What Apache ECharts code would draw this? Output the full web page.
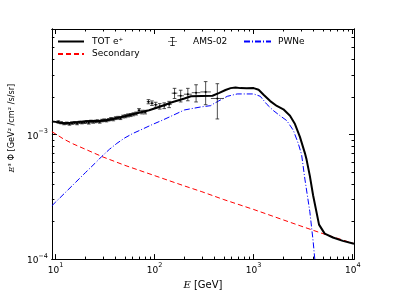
<!DOCTYPE html>
<html>
<head>
<meta charset="utf-8">
<script src="https://cdn.jsdelivr.net/npm/echarts@6/dist/echarts.min.js"></script>
<style>
html,body{margin:0;padding:0;background:#fff;}
#chart{width:394px;height:295px;}
</style>
</head>
<body>
<div id="chart"></div>
<script>
// ---- Data ----
// Total positron spectrum (black solid)
const totE = [9.2,10,11,12.5,14,17,22,28,35,41,50,60,75,88,111,147,200,233,300,384,450,520,585,656,736,850,1000,1122,1259,1469,1713,1995,2328,2612,2930,3289,3420,3690,3980,4570,5210,6310,7940,10300];
const totV = [1.27e-3,1.26e-3,1.24e-3,1.23e-3,1.24e-3,1.26e-3,1.28e-3,1.28e-3,1.31e-3,1.35e-3,1.40e-3,1.45e-3,1.51e-3,1.56e-3,1.66e-3,1.80e-3,1.94e-3,2.02e-3,2.03e-3,2.04e-3,2.15e-3,2.27e-3,2.35e-3,2.38e-3,2.35e-3,2.34e-3,2.35e-3,2.28e-3,2.08e-3,1.85e-3,1.69e-3,1.59e-3,1.41e-3,1.21e-3,9.55e-4,7.08e-4,6.28e-4,4.65e-4,3.25e-4,1.89e-4,1.60e-4,1.49e-4,1.40e-4,1.33e-4];
// Secondary positrons (red dashed)
const secE = [9.2,10,12,15,20,30,50,100,200,300,500,1000,2000,3000,5000,7000,10300];
const secV = [1.05e-3,1.01e-3,9.2e-4,8.4e-4,7.6e-4,6.6e-4,5.65e-4,4.67e-4,3.86e-4,3.47e-4,3.0e-4,2.5e-4,2.06e-4,1.84e-4,1.6e-4,1.47e-4,1.33e-4];
// PWNe contribution (blue dash-dot)
const pwnE = [9.2,10,14.7,20,25,29.4,35,41.6,50,60,75,92.7,120,147,200,293,369,398,542,682,1000,1167,1361,1585,1849,2158,2512,2818,3048,3289,3690,3980,4140,4500];
const pwnV = [2.68e-4,2.86e-4,3.87e-4,4.93e-4,5.86e-4,6.67e-4,7.59e-4,8.47e-4,9.37e-4,1.015e-3,1.10e-3,1.19e-3,1.30e-3,1.40e-3,1.57e-3,1.66e-3,1.70e-3,1.77e-3,2.02e-3,2.11e-3,2.11e-3,2.02e-3,1.74e-3,1.55e-3,1.41e-3,1.29e-3,1.08e-3,8.47e-4,6.87e-4,4.38e-4,2.40e-4,1.40e-4,1.0e-4,5.0e-5];
// AMS-02 data: bin centre, bin edges, value, error
const amsE  = [10.67,11.41,12.19,12.99,13.82,14.69,15.59,16.52,17.48,18.48,19.51,20.58,21.68,22.83,24.01,25.25,26.57,27.96,29.44,31.00,32.66,34.43,36.32,38.34,40.49,42.79,45.27,47.93,50.81,53.93,57.33,61.04,65.13,69.63,74.66,80.31,86.71,94.05,102.6,112.7,125.1,140.2,159.0,183.3,216.5,262.3,327.6,430.1];
const amsLo = [10.32,11.04,11.80,12.59,13.41,14.25,15.14,16.05,17.00,17.98,18.99,20.04,21.13,22.25,23.42,24.62,25.90,27.25,28.68,30.21,31.82,33.53,35.36,37.31,39.39,41.61,44.00,46.57,49.33,52.33,55.58,59.13,63.02,67.30,72.05,77.37,83.36,90.19,98.08,107.3,118.4,132.1,148.8,169.9,197.7,237.2,290.0,370.0];
const amsHi = [11.04,11.80,12.59,13.41,14.25,15.14,16.05,17.00,17.98,18.99,20.04,21.13,22.25,23.42,24.62,25.90,27.25,28.68,30.21,31.82,33.53,35.36,37.31,39.39,41.61,44.00,46.57,49.33,52.33,55.58,59.13,63.02,67.30,72.05,77.37,83.36,90.19,98.08,107.3,118.4,132.1,148.8,169.9,197.7,237.2,290.0,370.0,500.0];
const amsV  = [1.26e-3,1.24e-3,1.22e-3,1.23e-3,1.21e-3,1.23e-3,1.24e-3,1.22e-3,1.25e-3,1.24e-3,1.25e-3,1.26e-3,1.24e-3,1.27e-3,1.26e-3,1.27e-3,1.28e-3,1.26e-3,1.29e-3,1.30e-3,1.29e-3,1.31e-3,1.33e-3,1.32e-3,1.35e-3,1.36e-3,1.35e-3,1.39e-3,1.40e-3,1.42e-3,1.43e-3,1.45e-3,1.47e-3,1.56e-3,1.51e-3,1.51e-3,1.83e-3,1.78e-3,1.73e-3,1.68e-3,1.70e-3,1.74e-3,2.14e-3,2.04e-3,2.10e-3,2.16e-3,2.19e-3,1.94e-3];
const amsErr= [2.5e-5,2.5e-5,2.5e-5,2.5e-5,2.5e-5,2.5e-5,2.5e-5,2.5e-5,2.5e-5,2.5e-5,2.5e-5,3e-5,3e-5,3e-5,3e-5,3e-5,3e-5,3e-5,3e-5,3e-5,3e-5,3e-5,3.5e-5,3.5e-5,3.5e-5,3.5e-5,3.5e-5,3.5e-5,4e-5,4e-5,4e-5,4e-5,4e-5,5e-5,5e-5,5e-5,7e-5,7.5e-5,8e-5,8.5e-5,9e-5,1e-4,2e-4,2.2e-4,2.4e-4,3.4e-4,4.6e-4,6.1e-4];
// Axis ticks
const xMajor = [10,100,1000,10000];
const xMinor = [20,30,40,50,60,70,80,90,200,300,400,500,600,700,800,900,2000,3000,4000,5000,6000,7000,8000,9000];
const yMajor = [1e-4,1e-3];
const yMinor = [2e-4,3e-4,4e-4,5e-4,6e-4,7e-4,8e-4,9e-4,2e-3,3e-3,4e-3,5e-3,6e-3];
const xRange = [9.2, 10300];
const yRange = [1e-4, 7e-3];

const FONT = 'DejaVu Sans';
const supLabel = function (v) {
  const e = Math.round(Math.log10(v));
  return '{b|10}{s|' + (e < 0 ? '\u2212' + (-e) : e) + '}';
};
const labelRich = {
  b: {fontSize: 9, fontFamily: FONT, color: '#000', verticalAlign: 'bottom', lineHeight: 13},
  s: {fontSize: 6.5, fontFamily: FONT, color: '#000', verticalAlign: 'top', lineHeight: 13}
};
const axisLineStyle = {show: true, onZero: false, lineStyle: {color: '#000', width: 1}};

function xAxisDef(pos, ticks, len, labels, extra) {
  return Object.assign({
    type: 'log', logBase: 10, min: xRange[0], max: xRange[1], position: pos,
    axisLine: axisLineStyle,
    axisTick: {show: true, inside: true, length: len, customValues: ticks, lineStyle: {color: '#000', width: 1}},
    axisLabel: labels ? {show: true, customValues: xMajor, formatter: supLabel, margin: 3, rich: labelRich} : {show: false},
    splitLine: {show: false}, minorTick: {show: false}
  }, extra || {});
}
function yAxisDef(pos, ticks, len, labels, extra) {
  return Object.assign({
    type: 'log', logBase: 10, min: yRange[0], max: yRange[1], position: pos,
    axisLine: axisLineStyle,
    axisTick: {show: true, inside: true, length: len, customValues: ticks, lineStyle: {color: '#000', width: 1}},
    axisLabel: labels ? {show: true, customValues: yMajor, formatter: supLabel, margin: 4, rich: labelRich} : {show: false},
    splitLine: {show: false}, minorTick: {show: false}
  }, extra || {});
}

const chart = echarts.init(document.getElementById('chart'), null, {renderer: 'canvas'});

const amsData = amsE.map((e, i) => [e, amsV[i], amsErr[i], amsLo[i], amsHi[i]]);
const legendText = {fontSize: 9, fontFamily: FONT, color: '#000'};

const option = {
  animation: false,
  backgroundColor: '#fff',
  textStyle: {fontFamily: FONT},
  grid: {left: 49.5, top: 29, width: 304.5, height: 236.3, containLabel: false},
  xAxis: [
    xAxisDef('bottom', xMajor, 5, true, {
      name: '{i|E} [GeV]', nameLocation: 'middle', nameGap: 20,
      nameTextStyle: {fontSize: 10, fontFamily: FONT, color: '#000',
        rich: {i: {fontStyle: 'italic', fontFamily: 'DejaVu Serif', fontSize: 10, color: '#000'}}}
    }),
    xAxisDef('bottom', xMinor, 2.5, false),
    xAxisDef('top', xMajor, 5, false),
    xAxisDef('top', xMinor, 2.5, false)
  ],
  yAxis: [
    yAxisDef('left', yMajor, 5, true, {
      name: '{i|E}\u00B3 \u03A6 [GeV\u00B2 /cm\u00B2 /s/sr]', nameLocation: 'middle', nameGap: 26, nameRotate: 90,
      nameTextStyle: {fontSize: 8.2, fontFamily: FONT, color: '#000', padding: [0, 0, 0, 32],
        rich: {i: {fontStyle: 'italic', fontFamily: 'DejaVu Serif', fontSize: 8.2, color: '#000'}}}
    }),
    yAxisDef('left', yMinor, 2.5, false),
    yAxisDef('right', yMajor, 5, false),
    yAxisDef('right', yMinor, 2.5, false)
  ],
  legend: [
    {left: 57, top: 37, padding: 0, orient: 'vertical', itemWidth: 26, itemHeight: 10, itemGap: 3.5,
      itemStyle: {opacity: 0, borderWidth: 0},
      textStyle: Object.assign({padding: [0, 0, 0, 3]}, legendText),
      data: ['TOT e\u207A', 'Secondary']},
    {left: 168, top: 37, padding: 0, itemWidth: 9, itemHeight: 9,
      textStyle: Object.assign({padding: [0, 0, 0, 11]}, legendText),
      data: [{name: 'AMS-02', icon: 'path://M4.6,0H5.4V10H4.6Z M2.5,0H7.5V0.9H2.5Z M2.5,9.1H7.5V10H2.5Z M0,4.6H10V5.4H0Z'}]},
    {left: 243, top: 37, padding: 0, itemWidth: 27, itemHeight: 10,
      itemStyle: {opacity: 0, borderWidth: 0},
      textStyle: Object.assign({padding: [0, 0, 0, 2]}, legendText),
      data: ['PWNe']}
  ],
  series: [
    {
      name: 'Secondary', type: 'line', xAxisIndex: 0, yAxisIndex: 0, symbol: 'none', z: 2,
      lineStyle: {color: '#ff0000', width: 1, type: [5, 3]}, itemStyle: {color: '#ff0000'},
      data: secE.map((e, i) => [e, secV[i]])
    },
    {
      name: 'PWNe', type: 'line', xAxisIndex: 0, yAxisIndex: 0, symbol: 'none', z: 2,
      lineStyle: {color: '#0000ff', width: 1, type: [6, 2, 1, 2]}, itemStyle: {color: '#0000ff'},
      data: pwnE.map((e, i) => [e, pwnV[i]])
    },
    {
      name: 'AMS-02', type: 'custom', xAxisIndex: 0, yAxisIndex: 0, z: 3,
      itemStyle: {color: '#000'},
      encode: {x: 0, y: 1},
      renderItem: function (params, api) {
        const E = api.value(0), v = api.value(1), err = api.value(2), lo = api.value(3), hi = api.value(4);
        const c = api.coord([E, v]);
        const t = api.coord([E, v + err]);
        const b = api.coord([E, v - err]);
        const l = api.coord([lo, v]);
        const r = api.coord([hi, v]);
        const cap = 1.8;
        const st = {stroke: '#222', lineWidth: 0.8, fill: null};
        return {type: 'group', children: [
          {type: 'line', shape: {x1: c[0], y1: t[1], x2: c[0], y2: b[1]}, style: st},
          {type: 'line', shape: {x1: c[0] - cap, y1: t[1], x2: c[0] + cap, y2: t[1]}, style: st},
          {type: 'line', shape: {x1: c[0] - cap, y1: b[1], x2: c[0] + cap, y2: b[1]}, style: st},
          {type: 'line', shape: {x1: l[0], y1: c[1], x2: r[0], y2: c[1]}, style: st},
          {type: 'circle', shape: {cx: c[0], cy: c[1], r: 1}, style: {fill: '#000'}}
        ]};
      },
      data: amsData
    },
    {
      name: 'TOT e\u207A', type: 'line', xAxisIndex: 0, yAxisIndex: 0, symbol: 'none', z: 4,
      lineStyle: {color: '#000', width: 2}, itemStyle: {color: '#000'},
      data: totE.map((e, i) => [e, totV[i]])
    }
  ]
};
chart.setOption(option);
</script>
</body>
</html>
